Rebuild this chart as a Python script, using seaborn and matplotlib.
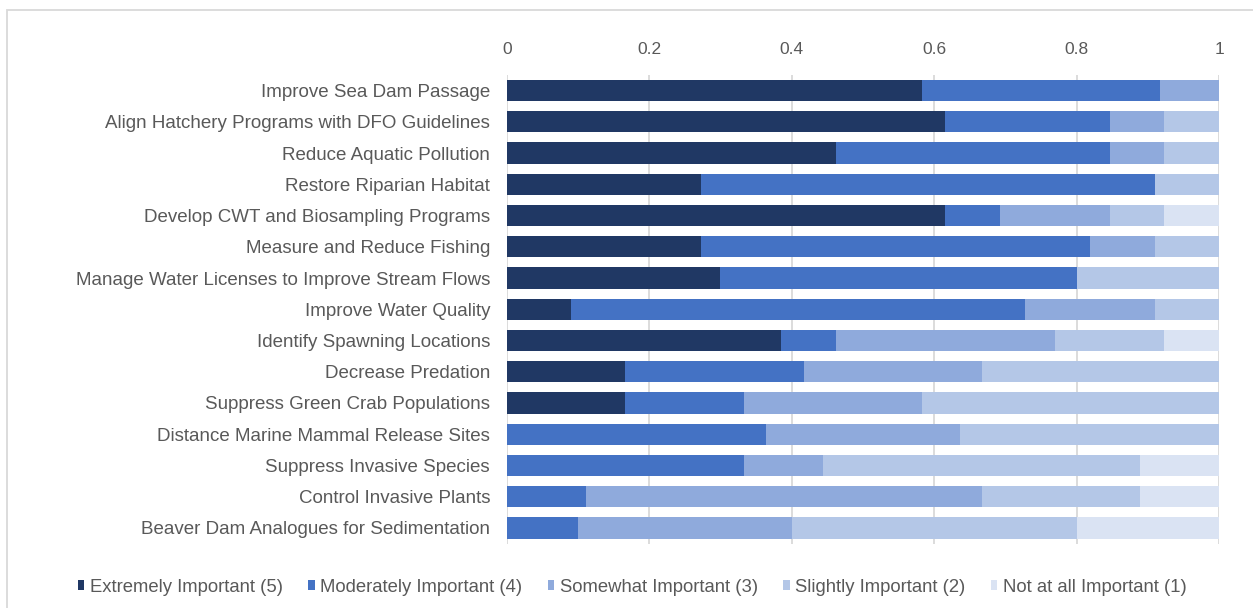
import matplotlib
matplotlib.use("Agg")
import matplotlib.pyplot as plt
from matplotlib.patches import Patch, Rectangle
import numpy as np
import pandas as pd
import seaborn as sns

# Survey actions, top to bottom
actions = [
    "Improve Sea Dam Passage",
    "Align Hatchery Programs with DFO Guidelines",
    "Reduce Aquatic Pollution",
    "Restore Riparian Habitat",
    "Develop CWT and Biosampling Programs",
    "Measure and Reduce Fishing",
    "Manage Water Licenses to Improve Stream Flows",
    "Improve Water Quality",
    "Identify Spawning Locations",
    "Decrease Predation",
    "Suppress Green Crab Populations",
    "Distance Marine Mammal Release Sites",
    "Suppress Invasive Species",
    "Control Invasive Plants",
    "Beaver Dam Analogues for Sedimentation",
]

# Number of responses per importance rating for each action
extremely = [7, 8, 6, 3, 8, 3, 3, 1, 5, 2, 2, 0, 0, 0, 0]
moderately = [4, 3, 5, 7, 1, 6, 5, 7, 1, 3, 2, 4, 3, 1, 1]
somewhat = [1, 1, 1, 0, 2, 1, 0, 2, 4, 3, 3, 3, 1, 5, 3]
slightly = [0, 1, 1, 1, 1, 1, 2, 1, 2, 4, 5, 4, 4, 2, 4]
not_at_all = [0, 0, 0, 0, 1, 0, 0, 0, 1, 0, 0, 0, 1, 1, 2]

ratings = [
    "Extremely Important (5)",
    "Moderately Important (4)",
    "Somewhat Important (3)",
    "Slightly Important (2)",
    "Not at all Important (1)",
]
colors = ["#203864", "#4472C4", "#8FAADC", "#B4C7E7", "#DAE3F3"]

x_ticks = [0, 0.2, 0.4, 0.6, 0.8, 1.0]
x_tick_labels = ["0", "0.2", "0.4", "0.6", "0.8", "1"]

sns.set_style("white")
plt.rcParams["font.family"] = ["Liberation Sans", "DejaVu Sans"]

counts = np.array([extremely, moderately, somewhat, slightly, not_at_all], dtype=float)
shares = counts / counts.sum(axis=0)
cumulative = np.cumsum(shares, axis=0)

df = pd.DataFrame({"action": actions})
for i, r in enumerate(ratings):
    df[r] = cumulative[i]

fig = plt.figure(figsize=(12.53, 6.08), dpi=100)
ax = fig.add_axes([506.7 / 1253, 1 - 543.5 / 608, 712.6 / 1253, 468.5 / 608])

# Stacked bars: draw the widest cumulative share first, then overlay
for i in range(len(ratings) - 1, -1, -1):
    sns.barplot(
        data=df, x=ratings[i], y="action", order=actions, orient="h",
        color=colors[i], saturation=1, width=0.68, errorbar=None,
        linewidth=0, ax=ax,
    )

ax.set_xlim(0, 1)
ax.set_ylim(len(actions) - 0.5, -0.5)
ax.set_xlabel("")
ax.set_ylabel("")
ax.set_xticks(x_ticks)
ax.set_xticklabels(x_tick_labels)
ax.xaxis.tick_top()
ax.tick_params(axis="x", length=0, pad=13, labelsize=12.5, labelcolor="#595959")
ax.tick_params(axis="y", length=0, pad=12, labelsize=13.5, labelcolor="#595959")
ax.grid(axis="x", color="#D9D9D9", linewidth=1.3)
ax.grid(axis="y", visible=False)
ax.set_axisbelow(True)
for s in ax.spines.values():
    s.set_visible(False)

# Chart frame
fig.patches.append(Rectangle((7 / 1253, -0.2), 1.2, 1.2 - 10 / 608,
                             transform=fig.transFigure, fill=False,
                             edgecolor="#D9D9D9", linewidth=1.3, zorder=0))

handles = [Patch(facecolor=c, edgecolor="none") for c in colors]
fig.legend(handles, ratings, loc="center", bbox_to_anchor=(0.5045, 1 - 587 / 608),
           ncol=5, frameon=False, fontsize=13.3, labelcolor="#595959",
           handlelength=0.35, handleheight=0.5, handletextpad=0.3,
           columnspacing=1.37)

fig.savefig("out.png", dpi=100)
